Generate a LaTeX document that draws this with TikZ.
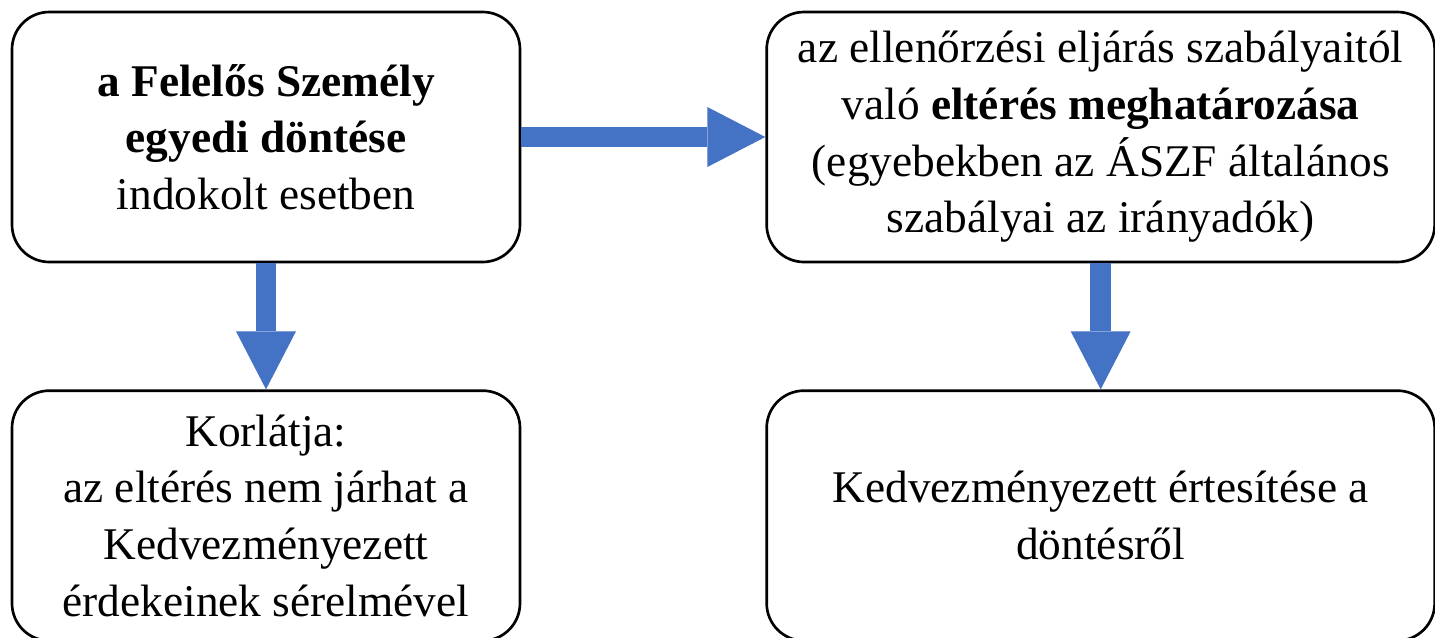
\documentclass[tikz,border=0pt]{standalone}
\usepackage{fontspec}
\setmainfont{Liberation Serif}
\usetikzlibrary{arrows.meta,positioning}
\definecolor{arrowblue}{HTML}{4472C4}

\begin{document}
\begin{tikzpicture}
				[x=0.75pt, y=-0.75pt, inner sep=0pt,
				box/.style		= {draw, rectangle, rounded corners=28pt, line width=2pt, black, align=center, font=\fontsize{34}{42.5}\selectfont},
				narrowbox/.style	= {box, minimum width=381pt, minimum height=187.5pt},
				widebox/.style		= {box, minimum width=501pt, minimum height=187.5pt},
				flow/.style		= {draw=arrowblue, line width=15.5pt, -{Triangle[length=43.5pt, width=45pt, line width=0pt, fill=arrowblue]}}]
				
				\useasboundingbox (0,0) rectangle (1435,637);
				
				\node [narrowbox]	at (266,137)					(decision)	{\textbf{a Felelős Személy}\\\textbf{egyedi döntése}\\indokolt esetben};
				\node [widebox]		[right = 183pt of decision]		(deviation)	{az ellenőrzési eljárás szabályaitól\\való \textbf{eltérés meghatározása}\\(egyebekben az ÁSZF általános\\szabályai az irányadók)};
				\node [narrowbox]	[below = 94.5pt of decision]	(limit)		{Korlátja:\\az eltérés nem járhat a\\Kedvezményezett\\érdekeinek sérelmével};
				\node [widebox]		[below = 94.5pt of deviation]	(notice)	{Kedvezményezett értesítése a\\döntésről};
				
				\draw [flow] (decision) -- (deviation);
				\draw [flow] (decision) -- (limit);
				\draw [flow] (deviation) -- (notice);
\end{tikzpicture}
\end{document}
